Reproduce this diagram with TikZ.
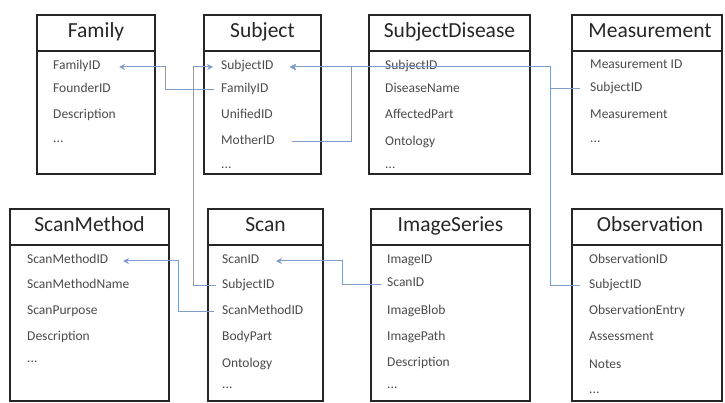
\documentclass[tikz,border=0pt]{standalone}
\usepackage{fontspec}
\setmainfont{Carlito}
\usetikzlibrary{arrows.meta}
\definecolor{conn}{HTML}{7F9DC6}
\definecolor{boxline}{HTML}{262626}
\definecolor{rowtext}{HTML}{4A4A4A}
\tikzset{
  tbl/.style={draw=boxline, line width=1.8pt},
  hdr/.style={font=\fontsize{21.5}{24}\selectfont, text=black!85, inner sep=0pt, text height=14pt, text depth=4pt},
  row/.style={anchor=west, font=\fontsize{13.5}{16}\selectfont, text=rowtext, inner sep=0pt, text height=9pt, text depth=3pt},
  link/.style={draw=conn, line width=1pt},
  arr/.style={link, -{Stealth[length=6pt,width=6pt]}}
}
\begin{document}
\begin{tikzpicture}[x=1pt,y=-1pt]
\useasboundingbox (0,0) rectangle (725,403);
% ---- boxes ----
\draw[tbl] (37,15) rectangle (155,174);   \draw[tbl] (37,51) -- (155,51);
\draw[tbl] (204,15) rectangle (321,174);  \draw[tbl] (204,51) -- (321,51);
\draw[tbl] (369,15) rectangle (530,174);  \draw[tbl] (369,51) -- (530,51);
\draw[tbl] (572,15) rectangle (722,174);  \draw[tbl] (572,51) -- (722,51);
\draw[tbl] (10,209) rectangle (169,401);  \draw[tbl] (10,245) -- (169,245);
\draw[tbl] (208,209) rectangle (323,401); \draw[tbl] (208,245) -- (323,245);
\draw[tbl] (371,209) rectangle (530,401); \draw[tbl] (371,245) -- (530,245);
\draw[tbl] (572,209) rectangle (722,401); \draw[tbl] (572,245) -- (722,245);
% ---- headers ----
\node[hdr] (hFamily) at (96,33) {Family};
\node[hdr] (hSubject) at (262.5,33) {Subject};
\node[hdr] (hSubjDis) at (449.5,33) {SubjectDisease};
\node[hdr] (hMeas) at (650,33) {Measurement};
\node[hdr] (hScanMethod) at (89.5,227) {ScanMethod};
\node[hdr] (hScan) at (265.5,227) {Scan};
\node[hdr] (hImage) at (450.5,227) {ImageSeries};
\node[hdr] (hObs) at (650,227) {Observation};
% ---- Family rows ----
\node[row] (fFid) at (53,67) {FamilyID};
\node[row] (fFound) at (53,90) {FounderID};
\node[row] (fDesc) at (53,116) {Description};
\node[row] (fEll) at (53,140) {...};
% ---- Subject rows ----
\node[row] (sSid) at (221,67) {SubjectID};
\node[row] (sFid) at (221,90) {FamilyID};
\node[row] (sUid) at (221,116) {UnifiedID};
\node[row] (sMid) at (221,142) {MotherID};
\node[row] (sEll) at (221,166) {...};
% ---- SubjectDisease rows ----
\node[row] (dSid) at (385,67) {SubjectID};
\node[row] (dName) at (385,90) {DiseaseName};
\node[row] (dPart) at (385,116) {AffectedPart};
\node[row] (dOnt) at (385,143) {Ontology};
\node[row] (dEll) at (385,166) {...};
% ---- Measurement rows ----
\node[row] (mId) at (590,66) {Measurement ID};
\node[row] (mSid) at (590,89) {SubjectID};
\node[row] (mMeas) at (590,116) {Measurement};
\node[row] (mEll) at (590,140) {...};
% ---- ScanMethod rows ----
\node[row] (smId) at (27,261) {ScanMethodID};
\node[row] (smName) at (27,285) {ScanMethodName};
\node[row] (smPurp) at (27,311) {ScanPurpose};
\node[row] (smDesc) at (27,337) {Description};
\node[row] (smEll) at (27,359) {...};
% ---- Scan rows ----
\node[row] (scId) at (222,261) {ScanID};
\node[row] (scSid) at (222,285) {SubjectID};
\node[row] (scMid) at (222,311) {ScanMethodID};
\node[row] (scBody) at (222,337) {BodyPart};
\node[row] (scOnt) at (222,364) {Ontology};
\node[row] (scEll) at (222,385) {...};
% ---- ImageSeries rows ----
\node[row] (imId) at (387,261) {ImageID};
\node[row] (imScan) at (387,284) {ScanID};
\node[row] (imBlob) at (387,311) {ImageBlob};
\node[row] (imPath) at (387,337) {ImagePath};
\node[row] (imDesc) at (387,363) {Description};
\node[row] (imEll) at (387,385) {...};
% ---- Observation rows ----
\node[row] (obId) at (589,261) {ObservationID};
\node[row] (obSid) at (589,285) {SubjectID};
\node[row] (obEntry) at (589,311) {ObservationEntry};
\node[row] (obAss) at (589,337) {Assessment};
\node[row] (obNotes) at (589,365) {Notes};
\node[row] (obEll) at (589,390) {...};
% ---- connectors ----
\draw[arr] ([xshift=-7pt]sFid.west) -- ++(-49,0) |- ([xshift=66pt]fFid.west);
\draw[arr] ([xshift=71pt]sMid.west) -- ++(59,0) |- ([xshift=69pt]sSid.west);
\draw[arr] ([xshift=-8pt]dSid.west) -- ([xshift=69pt]sSid.west);
\draw[arr] ([xshift=-10pt]mSid.west) -- ++(-30,0) |- ([xshift=69pt]sSid.west);
\draw[arr] ([xshift=-9pt]obSid.west) -- ++(-30,0) |- ([xshift=69pt]sSid.west);
\draw[arr] ([xshift=-6pt]scSid.west) -- ++(-23,0) |- ([xshift=-8pt]sSid.west);
\draw[arr] ([xshift=-8pt]scMid.west) -- ++(-36,0) |- ([xshift=96pt]smId.west);
\draw[arr] ([xshift=-6pt]imScan.west) -- ++(-39,0) |- ([xshift=54pt]scId.west);
\end{tikzpicture}
\end{document}
